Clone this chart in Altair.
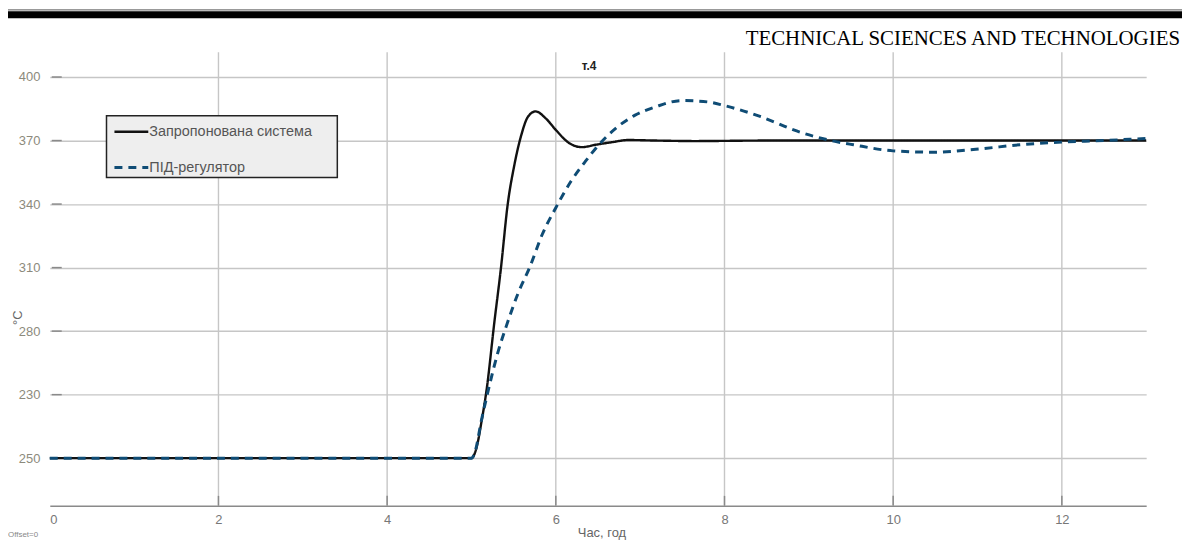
import altair as alt
import pandas as pd

# ---- data ----
series_names = ["Запропонована система", "ПІД-регулятор"]

t_prop = [0, 5.0, 5.06, 5.12, 5.18, 5.27, 5.35, 5.43, 5.51, 5.59, 5.67, 5.76,
          5.88, 6.0, 6.16, 6.31, 6.47, 6.67, 6.86, 7.18, 7.65, 8.5, 13.0]
v_prop = [250, 250, 254, 264, 276, 301, 322, 346, 361, 372, 379, 381,
          378.4, 374, 369, 367.5, 368.4, 369.4, 370.2, 370, 369.8, 370, 370]

t_pid = [0, 5.0, 5.04, 5.12, 5.22, 5.31, 5.41, 5.55, 5.69, 5.84, 6.0, 6.18,
         6.35, 6.51, 6.71, 6.94, 7.18, 7.49, 7.8, 8.0, 8.43, 8.63, 8.82, 9.22,
         9.53, 10.0, 10.47, 10.98, 11.57, 12.0, 12.5, 13.0]
v_pid = [250, 250, 252.2, 264.6, 278.4, 289.6, 299.6, 312.1, 322.1, 334.6, 344.6, 354.6,
         362.1, 368.4, 374.6, 379.6, 382.7, 385.1, 384.6, 383.2, 379, 376.5, 374, 370.3,
         368.4, 366.1, 365.6, 366.7, 368.6, 369.4, 370, 370.8]

x_ticks = [0, 2, 4, 6, 8, 10, 12]
x_grid = [2, 4, 6, 8, 10, 12]
y_ticks = [250, 274, 298, 322, 346, 370, 394]
y_tick_labels = ["250", "230", "280", "310", "340", "370", "400"]

header_text = "TECHNICAL SCIENCES AND TECHNOLOGIES"
panel_title = "т.4"
x_title = "Час, год"
y_title = "°C"
offset_note = "Offset=0"

# ---- build tables ----
df = pd.concat([
    pd.DataFrame({"t": t_prop, "v": v_prop, "series": series_names[0]}),
    pd.DataFrame({"t": t_pid, "v": v_pid, "series": series_names[1]}),
])
df_yt = pd.DataFrame({"v": y_ticks})
df_xt = pd.DataFrame({"t": x_grid})
one = pd.DataFrame({"k": [0]})

W, H = 1102, 456
FONT = "Liberation Sans"
xscale = alt.Scale(domain=[0, 13], nice=False, zero=False)
yscale = alt.Scale(domain=[232, 403.4], nice=False, zero=False)

label_expr = "{" + ",".join(f"'{v}':'{l}'" for v, l in zip(y_ticks, y_tick_labels)) + "}[datum.value]"

x_axis = alt.Axis(values=x_ticks, grid=False, ticks=False, domain=True,
                  domainColor="#8a8a8a", domainWidth=1.5,
                  labelColor="#777777", labelFontSize=13, labelFont=FONT,
                  labelPadding=8, title=None)
y_axis = alt.Axis(values=y_ticks, labelExpr=label_expr, grid=True,
                  gridColor="#c6c6c6", gridWidth=1.4, ticks=False, domain=False,
                  labelColor="#8c8a7c", labelFontSize=13, labelFont=FONT,
                  labelPadding=10, title=None)

X = alt.X("t:Q", scale=xscale, axis=x_axis)
Y = alt.Y("v:Q", scale=yscale, axis=y_axis)

lines = alt.Chart(df).mark_line(interpolate="monotone").encode(
    x=X, y=Y,
    color=alt.Color("series:N", scale=alt.Scale(domain=series_names, range=["#111111", "#0f4c75"]), legend=None),
    strokeDash=alt.StrokeDash("series:N", scale=alt.Scale(domain=series_names, range=[[1, 0], [8, 6]]), legend=None),
    strokeWidth=alt.StrokeWidth("series:N", scale=alt.Scale(domain=series_names, range=[2.4, 3]), legend=None),
    order=alt.Order("t:Q"),
)

vgrid = alt.Chart(df_xt).mark_rule(color="#c6c6c6", strokeWidth=1.4).encode(
    x=X, y=alt.value(0), y2=alt.value(H))
xticks = alt.Chart(df_xt).mark_rule(color="#8a8a8a", strokeWidth=1.5).encode(
    x=X, y=alt.value(H - 10), y2=alt.value(H))
yticks = alt.Chart(df_yt).mark_rule(color="#8a8a8a", strokeWidth=1.5).encode(
    y=Y, x=alt.value(2), x2=alt.value(12))

# legend (manual box)
leg_box = alt.Chart(one).mark_rect(fill="#eeeeee", stroke="#222222", strokeWidth=1.5).encode(
    x=alt.value(57), x2=alt.value(289), y=alt.value(64), y2=alt.value(126))
leg_l1 = alt.Chart(one).mark_rule(color="#111111", strokeWidth=2.4).encode(
    x=alt.value(65), x2=alt.value(99), y=alt.value(80))
leg_l2 = alt.Chart(one).mark_rule(color="#0f4c75", strokeWidth=3, strokeDash=[8, 6]).encode(
    x=alt.value(65), x2=alt.value(99), y=alt.value(116))
leg_t1 = alt.Chart(one).mark_text(align="left", baseline="middle", font=FONT, fontSize=14.5,
                                  color="#555555", text=series_names[0]).encode(
    x=alt.value(100), y=alt.value(80))
leg_t2 = alt.Chart(one).mark_text(align="left", baseline="middle", font=FONT, fontSize=14.5,
                                  color="#555555", text=series_names[1]).encode(
    x=alt.value(100), y=alt.value(116))

# titles and annotations
ttl = alt.Chart(one).mark_text(align="center", baseline="middle", font=FONT, fontSize=12,
                               fontWeight="bold", color="#222222", text=panel_title).encode(
    x=alt.value(542), y=alt.value(14))
xt = alt.Chart(one).mark_text(align="center", baseline="middle", font=FONT, fontSize=13,
                              color="#666666", text=x_title).encode(
    x=alt.value(555), y=alt.value(483))
yt = alt.Chart(one).mark_text(align="center", baseline="middle", font=FONT, fontSize=13,
                              color="#666666", text=y_title, angle=270).encode(
    x=alt.value(-32), y=alt.value(267))
off = alt.Chart(one).mark_text(align="left", baseline="middle", font=FONT, fontSize=8,
                               color="#888888", text=offset_note).encode(
    x=alt.value(-42), y=alt.value(485))

# journal header
hdr_thin = alt.Chart(one).mark_rule(color="#777777", strokeWidth=1.2).encode(
    x=alt.value(-42), x2=alt.value(1138), y=alt.value(-42.4))
hdr_bar = alt.Chart(one).mark_rect(color="#000000").encode(
    x=alt.value(-42), x2=alt.value(1138), y=alt.value(-41), y2=alt.value(-34))
hdr_txt = alt.Chart(one).mark_text(align="right", baseline="alphabetic", font="Liberation Serif",
                                   fontSize=21, color="#000000", text=header_text).encode(
    x=alt.value(1136), y=alt.value(-7))

chart = alt.layer(
    vgrid, xticks, yticks, lines, leg_box, leg_l1, leg_l2, leg_t1, leg_t2,
    ttl, xt, yt, off, hdr_thin, hdr_bar, hdr_txt
).properties(
    width=W, height=H,
    autosize=alt.AutoSizeParams(type="none"),
    padding={"left": 42, "top": 43, "right": 36, "bottom": 34},
).configure(background="white").configure_view(stroke=None)

chart.save("out.html", embed_options={"renderer": "svg", "actions": False})
